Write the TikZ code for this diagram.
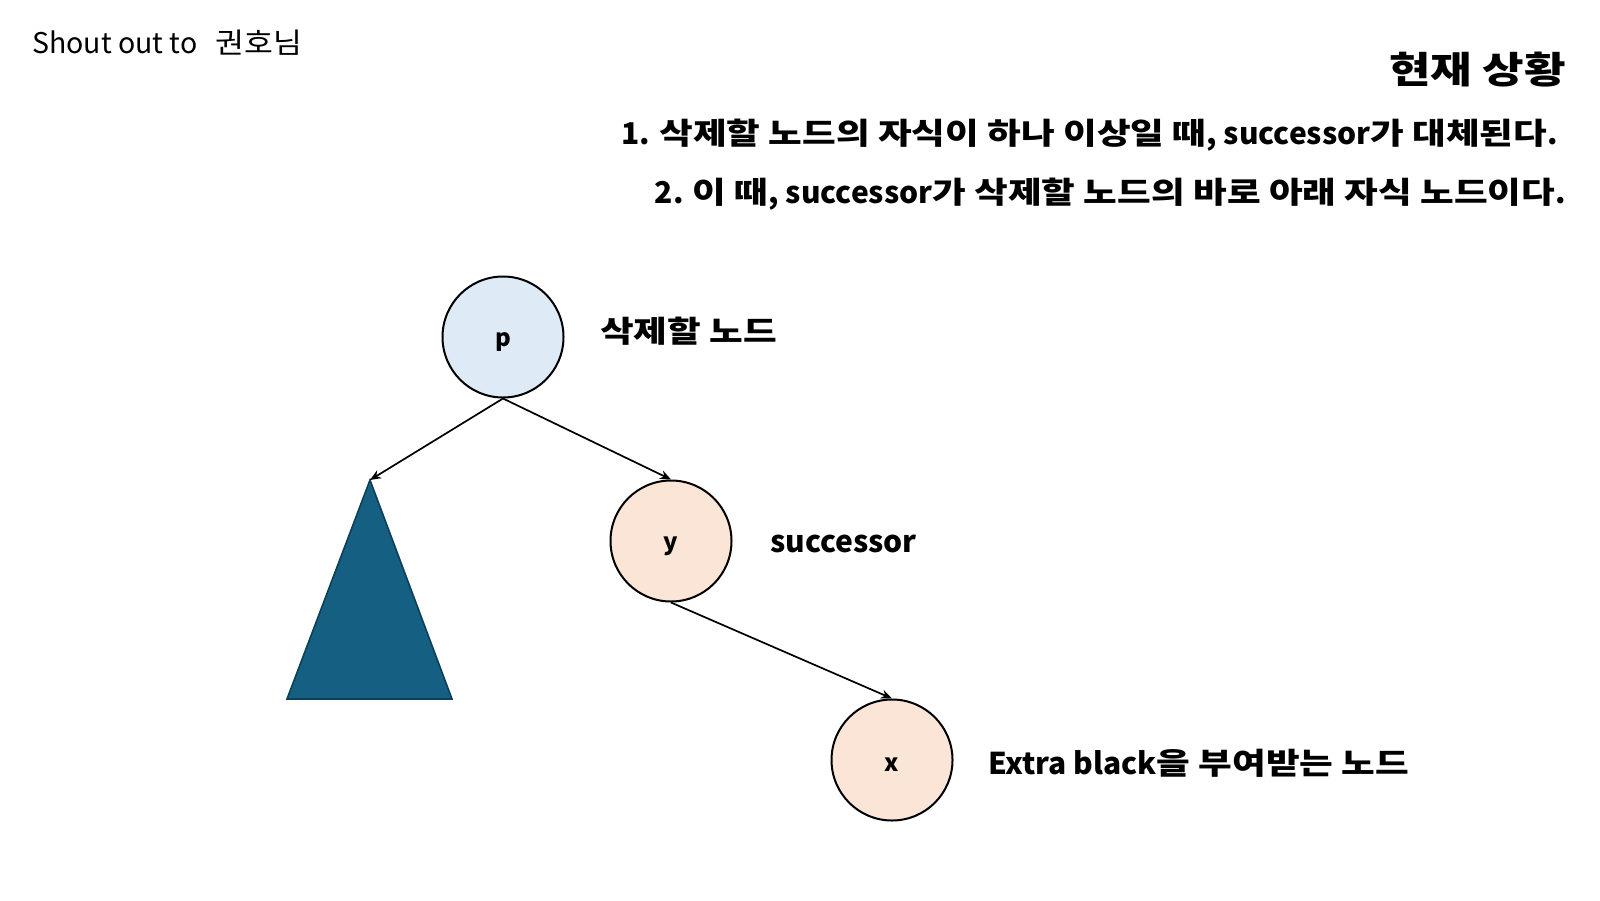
\documentclass[tikz,border=0pt]{standalone}
\usepackage{fontspec}
\setmainfont{Noto Sans CJK KR}
\newfontfamily\hg[FakeStretch=1.22]{Noto Sans CJK KR}
\newfontfamily\hgr[FakeStretch=1.1]{Noto Sans CJK KR}
\usetikzlibrary{arrows.meta}
\definecolor{pblue}{HTML}{DEEBF7}
\definecolor{ypeach}{HTML}{FBE5D6}
\definecolor{tri}{HTML}{156082}
\definecolor{triedge}{HTML}{0E3F56}
\newcommand\lowtxt[1]{\raisebox{-5pt}[\height][\depth]{#1}}
\tikzset{
  treenode/.style={circle,draw=black,line width=2pt,minimum size=121pt,inner sep=0pt,font=\fontsize{24}{28}\selectfont\bfseries},
  conn/.style={line width=1.7pt,-{Stealth[length=11pt,width=9pt]}},
  lbl/.style={anchor=west,inner sep=0pt,font=\fontsize{30}{36}\selectfont\bfseries},
  head/.style={anchor=east,inner sep=0pt,font=\fontsize{30}{36}\selectfont\bfseries}
}
\begin{document}
\begin{tikzpicture}[x=1pt,y=-1pt]
\useasboundingbox (0,0) rectangle (1600,900);
\node[anchor=west,inner sep=0pt,font=\fontsize{28.5}{32}\selectfont] (shout) at (32,43) {Shout out to\hspace{18pt}{\hgr 권호님}};
\node[anchor=east,inner sep=0pt,font=\fontsize{37}{44}\selectfont\bfseries] (title) at (1566,70) {{\hg 현재 상황}};
\node[head] (l1) at (1558,135) {1. {\hg 삭제할 노드의 자식이 하나 이상일 때}, successor{\hg 가 대체된다}.};
\node[head] (l2) at (1566,194) {2. {\hg 이 때}, successor{\hg 가 삭제할 노드의 바로 아래 자식 노드이다}.};

\node[treenode,fill=pblue] (p) at (503,337) {\lowtxt{p}};
\node[treenode,fill=ypeach] (y) at (671,541) {\lowtxt{y}};
\node[treenode,fill=ypeach] (x) at (892,760) {\lowtxt{x}};

\coordinate (ta) at (370,480);
\coordinate (tl) at (287,699);
\coordinate (tr) at (452,699);
\draw[fill=tri,draw=triedge,line width=1.6pt,line join=miter] (ta) -- (tr) -- (tl) -- cycle;

\draw[conn] (p.south) -- (ta);
\draw[conn] (p.south) -- (y.north);
\draw[conn] (y.south) -- (x.north);

\node[lbl] (pl) at (600,331) {{\hg 삭제할 노드}};
\node[lbl] (yl) at (770,544) {successor};
\node[lbl] (xl) at (988,763) {Extra black{\hg 을 부여받는 노드}};
\end{tikzpicture}
\end{document}
